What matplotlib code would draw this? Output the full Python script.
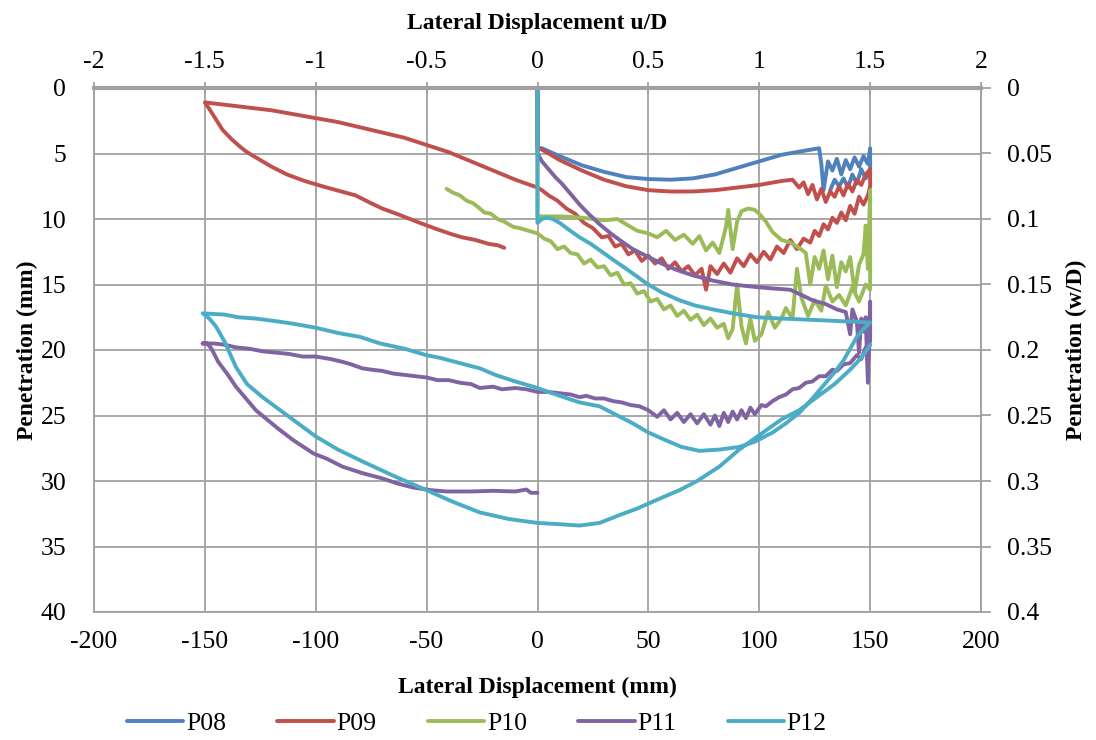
import matplotlib
matplotlib.use("Agg")
import matplotlib.pyplot as plt
from matplotlib.ticker import MultipleLocator, FixedLocator, FuncFormatter

plt.rcParams['font.family'] = ['Liberation Serif', 'DejaVu Serif']
plt.rcParams['axes.unicode_minus'] = False

# lateral displacement (mm) and penetration (mm) for each test
p08_x = [0, 0, 2, 10, 20, 30, 40, 50, 60, 70, 80, 90, 100, 110, 120, 127, 128, 129, 131, 133, 135,
         137, 139, 141, 143, 145, 147, 149, 150, 150, 148, 146, 144, 142, 140, 138, 136, 134, 132]
p08_y = [0, 4.6, 4.6, 5.2, 5.9, 6.4, 6.8, 6.95, 7.0, 6.9, 6.6, 6.1, 5.6, 5.1, 4.8, 4.6, 5.8, 7.8, 5.6, 6.3, 5.4,
         6.6, 5.5, 6.2, 5.3, 6.0, 5.2, 5.8, 4.6, 6.4, 6.9, 6.2, 7.3, 6.6, 7.6, 6.9, 7.5, 7.0, 7.8]

p09_x = [0, 0, 2, 10, 20, 30, 40, 50, 60, 70, 80, 90, 100, 110, 115, 118, 120, 122, 124, 126, 128, 130,
         132, 134, 136, 138, 140, 142, 144, 146, 148, 150,
         150, 149, 147, 145, 143, 141, 139, 137, 135, 133, 131, 129, 127, 125, 123, 120, 117, 114, 111, 108,
         105, 102, 99, 96, 93, 90, 87, 84, 81, 78, 76, 74, 71, 68, 65, 62, 59, 56, 53, 50, 47, 44, 41, 38,
         35, 32, 29, 25, 21, 17, 13, 9, 5, 2, 0,
         -10, -20, -30, -40, -50, -60, -70, -80, -90, -100, -110, -120, -130, -140, -150,
         -148, -145, -142, -138, -134, -131, -125, -120, -113, -105, -95, -82, -75, -70, -62, -53, -45, -38,
         -34, -28, -22, -18, -15]
p09_y = [0, 4.6, 4.7, 5.5, 6.3, 7.0, 7.5, 7.8, 7.9, 7.9, 7.8, 7.6, 7.4, 7.1, 7.0, 7.6, 7.2, 8.1, 7.4, 8.5, 7.7, 8.7,
         7.9, 8.3, 7.5, 8.2, 7.3, 7.9, 7.0, 7.4, 6.6, 6.2,
         7.5, 8.2, 8.9, 8.3, 9.6, 9.0, 10.1, 9.5, 10.3, 9.9, 10.8, 10.4, 11.3, 10.9, 11.8, 11.5, 12.3, 11.6, 12.6, 12.1,
         13.1, 12.5, 13.3, 12.7, 13.6, 13.0, 14.1, 13.4, 14.2, 13.6, 15.4, 13.8, 14.3, 13.6, 14.0, 13.3, 13.8, 13.0, 13.4, 12.8, 13.2, 12.4, 12.7, 11.9,
         12.1, 11.3, 11.4, 10.7, 10.3, 9.6, 9.2, 8.6, 8.2, 7.8, 7.6,
         7.0, 6.3, 5.6, 4.9, 4.35, 3.8, 3.4, 3.0, 2.6, 2.3, 2.0, 1.7, 1.5, 1.3, 1.1,
         1.6, 2.4, 3.2, 3.9, 4.5, 4.9, 5.5, 6.0, 6.6, 7.1, 7.6, 8.2, 8.8, 9.2, 9.7, 10.3, 10.8, 11.2,
         11.4, 11.6, 11.9, 12.0, 12.2]

p10_x = [0, 0, 2, 10, 20, 30, 36, 40, 45, 50, 54, 58, 62, 66, 70, 73, 76, 79, 82, 85, 86, 88, 90, 92, 95, 98,
         100, 103, 106, 110, 114, 118, 121, 123, 125, 127, 129, 131, 133, 135, 137, 139, 141, 143, 145, 147,
         148, 149, 150, 150,
         148, 145, 142, 139, 136, 133, 130, 128, 125, 122, 119, 117, 115, 112, 110, 107, 104, 101, 98, 96, 94,
         92, 90, 88, 86, 84, 81, 78, 75, 72, 69, 66, 63, 60, 57, 54, 51, 48, 45, 42, 39, 36, 33, 30, 27, 24,
         21, 18, 15, 12, 9, 6, 3, 0, -4, -8, -11, -15, -18, -21, -24, -26, -29, -32, -35, -38, -41]
p10_y = [0, 9.8, 9.8, 9.8, 9.9, 10.1, 10.0, 10.4, 10.9, 11.1, 11.4, 10.9, 11.6, 11.2, 11.9, 11.3, 12.4, 11.8, 12.6, 10.6, 9.3, 12.3, 10.2, 9.4, 9.2, 9.3,
         9.6, 10.2, 11.0, 11.6, 11.8, 12.2, 12.6, 15.0, 12.9, 13.8, 12.4, 14.6, 12.8, 15.2, 13.3, 14.0, 12.9, 15.6, 13.5, 12.7,
         10.5, 13.8, 7.8, 15.4,
         15.0, 16.3, 15.2, 16.6, 15.8, 16.3, 15.1, 17.0, 16.2, 17.4, 16.0, 13.8, 17.6, 16.8, 17.6, 18.3, 17.1, 18.8, 19.3, 17.6, 19.5,
         18.2, 15.0, 18.4, 19.1, 18.0, 18.3, 17.6, 18.1, 17.3, 17.7, 17.0, 17.4, 16.6, 16.9, 16.1, 16.3, 15.5, 15.7, 14.9, 15.0, 14.1, 14.3, 13.6, 13.7, 13.1,
         13.4, 12.7, 12.6, 12.1, 12.3, 11.7, 11.5, 11.1, 10.9, 10.7, 10.6, 10.2, 10.0, 9.6, 9.5, 9.2, 8.8, 8.6, 8.2, 8.0, 7.7]

p11_x = [0, 0, 2, 5, 8, 11, 15, 19, 23, 28, 33, 37, 43, 50, 56, 63, 70, 79, 88, 99, 106, 114, 119, 124, 130,
         135, 139, 141, 142, 144, 145, 146, 147, 148, 149, 150, 150, 149,
         148, 146, 144, 141, 138, 135, 133, 130, 127, 124, 121, 118, 115, 112, 109, 106, 103, 101, 98, 96, 94,
         92, 90, 88, 86, 84, 82, 80, 78, 75, 72, 69, 66, 63, 60, 57, 54, 50, 46, 42, 38, 34, 30, 26, 22, 19,
         15, 10, 5, 0, -5, -10, -16, -20, -26, -30, -35, -40, -45, -50, -55, -60, -65, -70, -75, -79, -84, -88,
         -93, -100, -106, -112, -118, -124, -130, -136, -141, -146, -151,
         -149, -147, -144, -140, -136, -131, -127, -122, -117, -110, -101, -95, -88, -79, -70, -63, -56, -48,
         -41, -30, -20, -10, -5, -3, 0]
p11_y = [0, 5.0, 5.6, 6.2, 6.8, 7.3, 8.1, 8.9, 9.6, 10.4, 11.1, 11.6, 12.3, 12.9, 13.4, 13.9, 14.3, 14.7, 15.0, 15.2, 15.3, 15.4, 15.8, 16.2, 16.5,
         16.9, 17.1, 18.8, 16.9, 17.8, 20.2, 17.6, 18.6, 17.5, 22.5, 16.3, 19.2, 20.8,
         19.8, 20.7, 20.4, 21.0, 21.1, 21.6, 21.5, 22.0, 22.0, 22.4, 22.5, 22.9, 23.0, 23.4, 23.6, 23.9, 24.3, 24.2, 24.9, 24.4, 25.2,
         24.6, 25.3, 24.7, 25.5, 24.8, 25.8, 25.0, 25.7, 24.9, 25.6, 24.9, 25.5, 24.8, 25.3, 24.6, 25.1, 24.6, 24.3, 24.2, 24.0, 23.9, 23.7, 23.7, 23.5, 23.6,
         23.4, 23.3, 23.2, 23.2, 23.0, 22.9, 23.0, 22.8, 22.9, 22.6, 22.5, 22.3, 22.3, 22.1, 22.0, 21.9, 21.8, 21.6, 21.5, 21.4, 21.1, 20.9,
         20.7, 20.5, 20.5, 20.3, 20.2, 20.1, 19.9, 19.8, 19.6, 19.5, 19.5,
         19.5, 19.9, 20.9, 21.8, 22.8, 23.8, 24.6, 25.3, 26.0, 26.9, 27.9, 28.3, 28.9, 29.4, 29.8, 30.2, 30.5, 30.7,
         30.8, 30.8, 30.75, 30.8, 30.65, 30.9, 30.9]

p12_x = [0, 0, 2, 4, 7, 10, 14, 19, 24, 29, 34, 40, 45, 49, 56, 64, 71, 79, 88, 99, 110, 124, 137, 150,
         147, 144, 141, 138, 134, 130, 124, 118, 112, 106, 98, 91, 82, 73, 65, 58, 50, 43, 36, 28, 19, 10, 0,
         -10, -19, -26, -35, -44, -50, -60, -71, -80, -90, -100, -110, -118, -127, -135, -141, -151,
         -148, -145, -141, -136, -131, -124, -116, -108, -100, -90, -79, -65, -50, -38, -26, -13, 0, 10, 19,
         28, 37, 45, 53, 64, 72, 82, 91, 100, 110, 118, 126, 134, 141, 146, 150]
p12_y = [0, 10.3, 10.0, 9.9, 10.0, 10.3, 10.8, 11.4, 11.9, 12.5, 13.1, 13.8, 14.4, 14.9, 15.6, 16.2, 16.6, 16.9, 17.2, 17.5, 17.6, 17.7, 17.8, 17.9,
         18.4, 19.0, 19.9, 20.8, 21.7, 22.5, 23.7, 24.8, 25.6, 26.3, 27.0, 27.4, 27.6, 27.7, 27.4, 26.9, 26.3, 25.6, 25.0, 24.3, 24.0, 23.5, 22.9,
         22.4, 21.9, 21.4, 21.0, 20.6, 20.4, 19.9, 19.5, 19.0, 18.7, 18.3, 18.0, 17.8, 17.6, 17.5, 17.3, 17.2,
         17.6, 18.2, 19.4, 21.3, 22.6, 23.6, 24.6, 25.6, 26.6, 27.6, 28.5, 29.6, 30.7, 31.6, 32.4, 32.9, 33.2, 33.3, 33.4,
         33.2, 32.6, 32.1, 31.5, 30.7, 30.0, 28.9, 27.6, 26.5, 25.3, 24.6, 23.6, 22.6, 21.5, 20.6, 19.6]

names = ['P08', 'P09', 'P10', 'P11', 'P12']
xs = [p08_x, p09_x, p10_x, p11_x, p12_x]
ys = [p08_y, p09_y, p10_y, p11_y, p12_y]
colors = ['#4F81BD', '#C0504D', '#9BBB59', '#8064A2', '#4BACC6']

ud_ticks = [-2, -1.5, -1, -0.5, 0, 0.5, 1, 1.5, 2]
wd_ticks = [0, 0.05, 0.1, 0.15, 0.2, 0.25, 0.3, 0.35, 0.4]

pipe_d = 100.0  # mm
grid_c = '#A0A0A0'

fig = plt.figure(figsize=(10.96, 7.40), dpi=100)
ax = fig.add_axes([94/1096, 1 - 612/740, (981 - 94)/1096, (612 - 88)/740])

for name, x, y, c in zip(names, xs, ys, colors):
    ax.plot(x, y, color=c, lw=2.8, label=name, solid_joinstyle='round', solid_capstyle='round')

ax.set_xlim(-200, 200)
ax.set_ylim(40, 0)
ax.xaxis.set_major_locator(MultipleLocator(50))
ax.yaxis.set_major_locator(MultipleLocator(5))
ax.grid(True, color=grid_c, lw=1.3)
ax.set_axisbelow(True)
ax.tick_params(axis='both', length=0, labelsize=18.5)
ax.tick_params(axis='x', pad=14)
ax.tick_params(axis='y', pad=20)
for side in ['left', 'right', 'bottom']:
    ax.spines[side].set_color(grid_c)
    ax.spines[side].set_linewidth(1.3)
ax.spines['top'].set_color(grid_c)
ax.spines['top'].set_linewidth(3)

ax.set_xlabel('Lateral Displacement (mm)', fontsize=17, fontweight='bold', labelpad=17)
ax.set_ylabel('Penetration (mm)', fontsize=17, fontweight='bold', labelpad=2)

# normalised scales on the opposite sides
top = ax.secondary_xaxis('top', functions=(lambda v: v / pipe_d, lambda v: v * pipe_d))
top.xaxis.set_major_locator(FixedLocator(ud_ticks))
top.xaxis.set_major_formatter(FuncFormatter(lambda v, p: f'{v:g}'))
top.tick_params(direction='inout', length=9, width=1.3, color=grid_c, labelsize=18.5, pad=6)
top.spines['top'].set_visible(False)
top.set_xlabel('Lateral Displacement u/D', fontsize=17, fontweight='bold', labelpad=16)

right = ax.secondary_yaxis('right', functions=(lambda v: v / pipe_d, lambda v: v * pipe_d))
right.yaxis.set_major_locator(FixedLocator(wd_ticks))
right.yaxis.set_major_formatter(FuncFormatter(lambda v, p: f'{v:g}'))
right.tick_params(direction='out', length=7, width=1.3, color=grid_c, labelsize=18.5, pad=12)
right.spines['right'].set_visible(False)
right.set_ylabel('Penetration (w/D)', fontsize=17, fontweight='bold', labelpad=10)

fig.legend(loc='lower center', bbox_to_anchor=(0.435, -0.024), ncol=5, frameon=False,
           fontsize=18.5, handlelength=2.2, columnspacing=2.0, handletextpad=0.1)

fig.savefig('out.png', dpi=100)
